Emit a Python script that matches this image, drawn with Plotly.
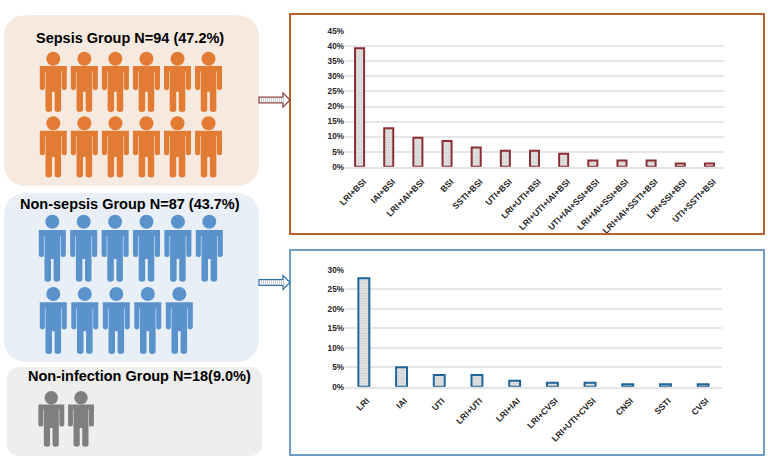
import plotly.graph_objects as go

# ---- data ----
sepsis_labels = ["LRI+BSI", "IAI+BSI", "LRI+IAI+BSI", "BSI", "SSTI+BSI", "UTI+BSI", "LRI+UTI+BSI",
                 "LRI+UTI+IAI+BSI", "UTI+IAI+SSI+BSI", "LRI+IAI+SSI+BSI", "LRI+IAI+SSTI+BSI",
                 "LRI+SSI+BSI", "UTI+SSTI+BSI"]
sepsis_values = [39.4, 12.8, 9.6, 8.5, 6.4, 5.3, 5.3, 4.3, 2.1, 2.1, 2.1, 1.1, 1.1]
nonsepsis_labels = ["LRI", "IAI", "UTI", "LRI+UTI", "LRI+IAI", "LRI+CVSI", "LRI+UTI+CVSI", "CNSI", "SSTI", "CVSI"]
nonsepsis_values = [27.8, 5.0, 3.0, 3.0, 1.5, 1.0, 1.0, 0.6, 0.6, 0.6]
sepsis_ticks = [0, 5, 10, 15, 20, 25, 30, 35, 40, 45]
nonsepsis_ticks = [0, 5, 10, 15, 20, 25, 30]
sepsis_people = [6, 6]
nonsepsis_people = [6, 5]
noninfection_people = [2]

W, H = 768, 459
FONT = "Liberation Sans"
px = lambda x: x / W
py = lambda y: 1 - y / H
shapes = []


def pt(x, y):
    return f"{px(x):.5f},{py(y):.5f}"


def rounded_rect(x0, y0, x1, y1, r, fill):
    d = (f"M{pt(x0 + r, y0)} L{pt(x1 - r, y0)} Q{pt(x1, y0)} {pt(x1, y0 + r)} L{pt(x1, y1 - r)} "
         f"Q{pt(x1, y1)} {pt(x1 - r, y1)} L{pt(x0 + r, y1)} Q{pt(x0, y1)} {pt(x0, y1 - r)} "
         f"L{pt(x0, y0 + r)} Q{pt(x0, y0)} {pt(x0 + r, y0)} Z")
    shapes.append(dict(type="path", xref="paper", yref="paper", path=d, fillcolor=fill, line=dict(width=0), layer="below"))


def person(cx, head_y, bottom, color, s=1.0):
    h = bottom - head_y
    X = lambda u: cx + u * s
    Y = lambda t: head_y + t * h
    r = 7 * s
    shapes.append(dict(type="circle", xref="paper", yref="paper", x0=px(cx - r), x1=px(cx + r),
                       y0=py(head_y + r), y1=py(head_y - r), fillcolor=color, line=dict(width=0)))
    half = [(13.5, .138), (13.5, .55), ("Q", 13.5, .59, 11, .59), ("Q", 8.4, .59, 8.4, .55), (8.4, .24), (7.8, .24),
            (7.8, .96), ("Q", 7.8, 1, 4.6, 1), ("Q", 1.3, 1, 1.3, .96), (1.3, .62)]
    cmds = [f"M{pt(X(-13.5), Y(.138))}"]
    for p in half:
        if p[0] == "Q":
            cmds.append(f"Q{pt(X(p[1]), Y(p[2]))} {pt(X(p[3]), Y(p[4]))}")
        else:
            cmds.append(f"L{pt(X(p[0]), Y(p[1]))}")
    rev = [(-1.3, .62), (-1.3, .96), ("Q", -1.3, 1, -4.6, 1), ("Q", -7.8, 1, -7.8, .96), (-7.8, .24), (-8.4, .24),
           (-8.4, .55), ("Q", -8.4, .59, -11, .59), ("Q", -13.5, .59, -13.5, .55)]
    for p in rev:
        if p[0] == "Q":
            cmds.append(f"Q{pt(X(p[1]), Y(p[2]))} {pt(X(p[3]), Y(p[4]))}")
        else:
            cmds.append(f"L{pt(X(p[0]), Y(p[1]))}")
    cmds.append("Z")
    shapes.append(dict(type="path", xref="paper", yref="paper", path=" ".join(cmds), fillcolor=color, line=dict(width=0)))


def arrow(cy, color):
    x0, xn, x1 = 259, 283, 290
    d = (f"M{pt(x0, cy - 2.8)} L{pt(xn, cy - 2.8)} L{pt(xn, cy - 7)} L{pt(x1, cy)} L{pt(xn, cy + 7)} "
         f"L{pt(xn, cy + 2.8)} L{pt(x0, cy + 2.8)} Z")
    shapes.append(dict(type="path", xref="paper", yref="paper", path=d, fillcolor="white", line=dict(color=color, width=1.2)))
    hatch = " ".join(f"M{pt(x + 0.5, cy - 2.2)} L{pt(x + 0.5, cy + 2.2)}" for x in range(x0 + 2, xn + 1, 2))
    shapes.append(dict(type="path", xref="paper", yref="paper", path=hatch, line=dict(color="#b5b5b5", width=0.7)))


def frame(x0, y0, x1, y1, color):
    shapes.append(dict(type="rect", xref="paper", yref="paper", x0=px(x0), x1=px(x1), y0=py(y1), y1=py(y0),
                       line=dict(color=color, width=2), fillcolor="rgba(0,0,0,0)"))


rounded_rect(4, 15, 259, 186, 24, "#F6E9DF")
rounded_rect(4, 193, 259, 362, 24, "#E9EFF7")
rounded_rect(7, 367, 262, 456, 13, "#EFEEEE")

ORANGE, BLUE, GREY = "#E27B33", "#5A92CB", "#7F7F7F"
for row, (n, head, bot, start, step) in enumerate(zip(sepsis_people, [58.7, 123.3], [112, 177.5], [53.3, 53.3], [31.05, 31.05])):
    for i in range(n):
        person(start + i * step, head, bot, ORANGE)
for row, (n, head, bot, start, step) in enumerate(zip(nonsepsis_people, [221.7, 294], [281.7, 354], [52.3, 53.3], [31.4, 31.5])):
    for i in range(n):
        person(start + i * step, head, bot, BLUE)
for n, head, bot, start, step in zip(noninfection_people, [397.7], [446.7], [51.3], [29.7]):
    for i in range(n):
        person(start + i * step, head, bot, GREY, s=0.96)

frame(290, 14, 764, 234, "#B9602C")
frame(290, 250, 764, 455, "#6E9DC9")
arrow(100, "#8C3F3F")
arrow(282.5, "#2F6FA8")


def bar_trace(labels, values, color, xa, ya, width):
    return go.Bar(x=labels, y=values, xaxis=xa, yaxis=ya, width=width, showlegend=False,
                  marker=dict(color="white", line=dict(color=color, width=2),
                              pattern=dict(shape=".", fgcolor="#a8a8a8", bgcolor="#eeeeee", size=2.5, solidity=0.5)))


fig = go.Figure()
fig.add_trace(bar_trace(sepsis_labels, sepsis_values, "#8C2F33", "x", "y", 0.31))
fig.add_trace(bar_trace(nonsepsis_labels, nonsepsis_values, "#1F6598", "x2", "y2", 0.29))

tf = dict(family=FONT, size=8.2, color="#262626", weight=700)
xtf = dict(family=FONT, size=8.6, color="#262626", weight=700)
grid = dict(showgrid=True, gridcolor="#E6E6E6", gridwidth=1.5, zeroline=False, showline=False, ticks="", tickfont=tf)


def titles(text, x, y, size):
    return dict(text=text, x=px(x), y=py(y), xref="paper", yref="paper", xanchor="center", yanchor="middle", showarrow=False,
                font=dict(family=FONT, size=size, color="black", weight=700))


fig.update_layout(
    width=W, height=H, autosize=False, margin=dict(l=0, r=0, t=0, b=0, pad=0, autoexpand=False),
    paper_bgcolor="white", plot_bgcolor="rgba(0,0,0,0)", shapes=shapes, bargap=0.69,
    xaxis=dict(domain=[px(345), px(724)], anchor="y", tickangle=-45, tickfont=xtf, showgrid=False, ticks="",
               ticklabelshift=4, ticklabelstandoff=5,
               automargin=False, categoryorder="array", categoryarray=sepsis_labels, showline=True, linecolor="#E4E4E4", linewidth=1.5),
    yaxis=dict(domain=[py(166.7), py(31.3)], anchor="x", range=[0, 45], tickvals=sepsis_ticks, automargin=False,
               ticktext=[f"{v}%" for v in sepsis_ticks], **grid),
    xaxis2=dict(domain=[px(345), px(722)], anchor="y2", tickangle=-45, tickfont=xtf, showgrid=False, ticks="",
                ticklabelshift=3, ticklabelstandoff=4,
                automargin=False, categoryorder="array", categoryarray=nonsepsis_labels, showline=True, linecolor="#E4E4E4", linewidth=1.5),
    yaxis2=dict(domain=[py(386.7), py(269.7)], anchor="x2", range=[0, 30], tickvals=nonsepsis_ticks, automargin=False,
                ticktext=[f"{v}%" for v in nonsepsis_ticks], **grid),
    annotations=[
        titles("Sepsis Group N=94 (47.2%)", 130, 38, 14.5),
        titles("Non-sepsis Group N=87 (43.7%)", 130, 203.5, 14.5),
        titles("Non-infection Group N=18(9.0%)", 139, 376, 14.5),
    ],
)
fig.write_html("out.html", config=dict(displayModeBar=False),
               post_script="document.documentElement.style.overflow='hidden';document.body.style.margin='0';document.body.style.overflow='hidden';")
